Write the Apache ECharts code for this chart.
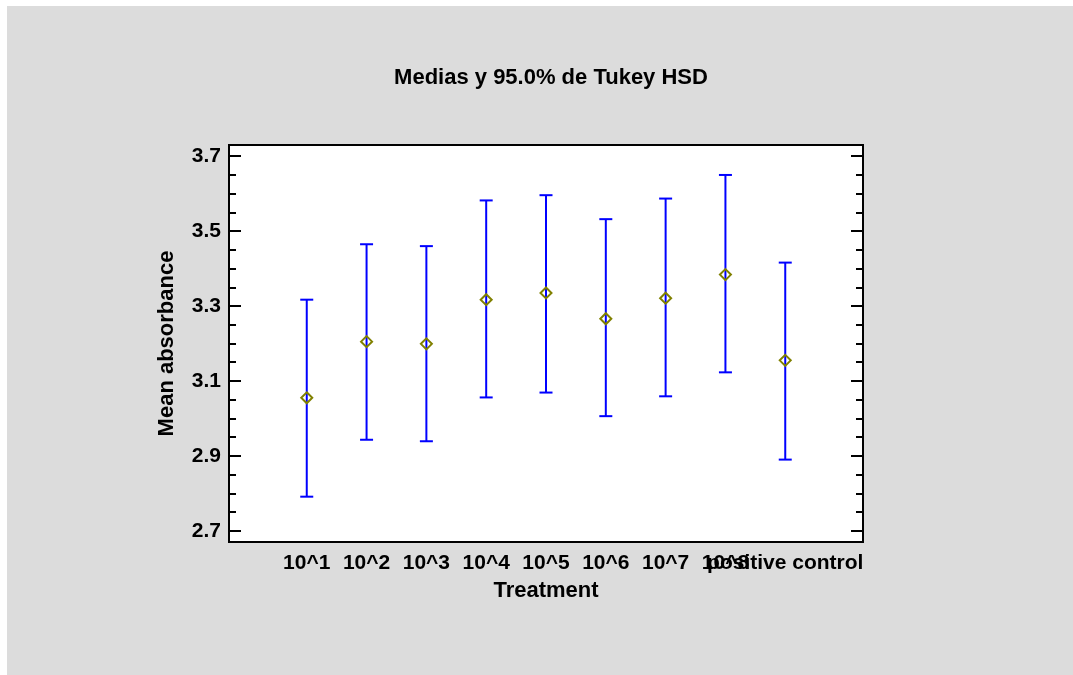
<!DOCTYPE html>
<html>
<head>
<meta charset="utf-8">
<title>Medias y 95.0% de Tukey HSD</title>
<script src="https://cdn.jsdelivr.net/npm/echarts@6/dist/echarts.min.js"></script>
<style>
  html, body { margin: 0; padding: 0; background: #ffffff; }
  #chart { width: 1073px; height: 675px; }
</style>
</head>
<body>
<div id="chart"></div>
<script>
// Treatment groups and their means with Tukey HSD 95% intervals
const categories = ['10^1', '10^2', '10^3', '10^4', '10^5', '10^6', '10^7', '10^8', 'positive control'];
const means = [3.055, 3.205, 3.199, 3.317, 3.335, 3.266, 3.321, 3.384, 3.155];
const lower = [2.791, 2.943, 2.939, 3.056, 3.069, 3.006, 3.059, 3.123, 2.890];
const upper = [3.317, 3.465, 3.460, 3.582, 3.596, 3.532, 3.587, 3.650, 3.416];

// Axis ticks
const majorTicks = [2.7, 2.9, 3.1, 3.3, 3.5, 3.7];
const minorTicks = [2.75, 2.8, 2.85, 2.95, 3.0, 3.05, 3.15, 3.2, 3.25, 3.35, 3.4, 3.45, 3.55, 3.6, 3.65];

const FONT = 'Liberation Sans, Arial, sans-serif';
const Y_MIN = 2.67, Y_MAX = 3.73;
const X_MIN = -0.3, X_MAX = 10.3;

const chart = echarts.init(document.getElementById('chart'), null, { renderer: 'canvas' });

const intervalData = categories.map((c, i) => [i + 1, lower[i], upper[i]]);
const meanData = categories.map((c, i) => [i + 1, means[i]]);

const labelStyle = { color: '#000', fontFamily: FONT, fontWeight: 'bold', fontSize: 21 };

function tickAxis(position, values, len, showLine, showLabel) {
  return {
    type: 'value',
    position: position,
    min: Y_MIN,
    max: Y_MAX,
    gridIndex: 0,
    axisLine: { show: showLine, onZero: false, lineStyle: { color: '#000', width: 2 } },
    axisTick: { show: true, inside: true, length: len, customValues: values, lineStyle: { color: '#000', width: 2 } },
    axisLabel: showLabel ? Object.assign({
      show: true, customValues: values, margin: 8, hideOverlap: false,
      formatter: v => v.toFixed(1)
    }, labelStyle) : { show: false },
    splitLine: { show: false }
  };
}

// Category labels along the bottom; the last label sits on its own axis so
// that it is drawn even where it runs into its neighbour.
function labelAxis(indices, showLine) {
  return {
    type: 'value', min: X_MIN, max: X_MAX, position: 'bottom',
    axisLine: { show: showLine, onZero: false, lineStyle: { color: '#000', width: 2 } },
    axisTick: { show: false },
    splitLine: { show: false },
    axisLabel: Object.assign({
      customValues: indices.map(i => i + 1),
      formatter: v => categories[Math.round(v) - 1] || '',
      hideOverlap: false, margin: 11
    }, labelStyle)
  };
}

const xMain = labelAxis(categories.slice(0, -1).map((c, i) => i), true);
xMain.name = 'Treatment';
xMain.nameLocation = 'middle';
xMain.nameGap = 38;
xMain.nameTextStyle = { color: '#000', fontFamily: FONT, fontWeight: 'bold', fontSize: 22 };
const xLast = labelAxis([categories.length - 1], false);

const yMain = tickAxis('left', majorTicks, 12, true, true);
yMain.name = 'Mean absorbance';
yMain.nameLocation = 'middle';
yMain.nameRotate = 90;
yMain.nameGap = 51;
yMain.nameTextStyle = { color: '#000', fontFamily: FONT, fontWeight: 'bold', fontSize: 22 };

chart.setOption({
  backgroundColor: '#ffffff',
  animation: false,
  graphic: [{
    type: 'rect', z: -10, silent: true,
    shape: { x: 7, y: 6, width: 1073, height: 675 },
    style: { fill: '#dcdcdc' }
  }],
  title: {
    text: 'Medias y 95.0% de Tukey HSD',
    left: 546, top: 62, textAlign: 'center',
    textStyle: { color: '#000', fontFamily: FONT, fontWeight: 'bold', fontSize: 22 }
  },
  grid: {
    left: 229, top: 145, right: 210, bottom: 133,
    show: true, backgroundColor: '#ffffff', borderColor: '#000', borderWidth: 2
  },
  xAxis: [xMain, xLast],
  yAxis: [
    yMain,
    tickAxis('left', minorTicks, 7, false, false),
    tickAxis('right', majorTicks, 12, true, false),
    tickAxis('right', minorTicks, 7, false, false)
  ],
  series: [
    {
      type: 'custom',
      xAxisIndex: 0,
      yAxisIndex: 0,
      data: intervalData,
      renderItem: function (params, api) {
        const x = api.value(0);
        const lo = api.coord([x, api.value(1)]);
        const hi = api.coord([x, api.value(2)]);
        const half = 6.5;
        const style = { stroke: '#0000ff', lineWidth: 2 };
        return {
          type: 'group',
          children: [
            { type: 'line', shape: { x1: lo[0], y1: lo[1], x2: hi[0], y2: hi[1] }, style: style },
            { type: 'line', shape: { x1: hi[0] - half, y1: hi[1], x2: hi[0] + half, y2: hi[1] }, style: style },
            { type: 'line', shape: { x1: lo[0] - half, y1: lo[1], x2: lo[0] + half, y2: lo[1] }, style: style }
          ]
        };
      },
      z: 2
    },
    {
      type: 'scatter',
      xAxisIndex: 0,
      yAxisIndex: 0,
      data: meanData,
      symbol: 'diamond',
      symbolSize: [11, 11],
      itemStyle: { color: 'rgba(0,0,0,0)', borderColor: '#808000', borderWidth: 2, opacity: 1 },
      z: 3
    }
  ]
});
</script>
</body>
</html>
